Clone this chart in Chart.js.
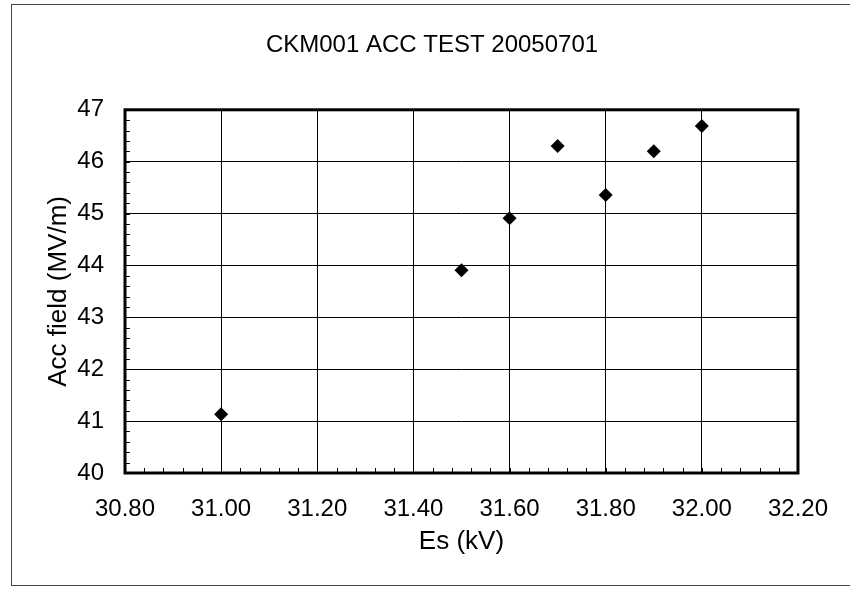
<!DOCTYPE html>
<html>
<head>
<meta charset="utf-8">
<script src="https://cdn.jsdelivr.net/npm/chart.js@4"></script>
<style>
  html, body { margin: 0; padding: 0; background: #fff; }
  #wrap { position: relative; width: 850px; height: 589px; overflow: hidden; }
  #frame { position: absolute; left: 11px; top: 4px; width: 900px; height: 582px;
           border: 1px solid #444; box-sizing: border-box; pointer-events: none; }
  canvas { position: absolute; left: 0; top: 0; }
</style>
</head>
<body>
<div id="wrap">
  <canvas id="chart" width="850" height="589"></canvas>
  <div id="frame"></div>
</div>
<script>
// --- données ---
const esKV = [31.00, 31.50, 31.60, 31.70, 31.80, 31.90, 32.00];
const accField = [41.13, 43.91, 44.91, 46.30, 45.36, 46.20, 46.69];

const xMin = 30.8, xMax = 32.2, xStep = 0.2, xMinorStep = 0.04;
const yMin = 40, yMax = 47, yStep = 1, yMinorStep = 0.2;

const chartTitle = 'CKM001 ACC TEST 20050701';
const xTitle = 'Es (kV)';
const yTitle = 'Acc field (MV/m)';

const FONT = '"Liberation Sans", Arial, sans-serif';

// cadre épais + petites graduations intérieures
const framePlugin = {
    id: 'frame',
    afterDatasetsDraw(chart) {
        const {ctx, chartArea: a, scales: {x, y}} = chart;
        ctx.save();
        ctx.strokeStyle = '#000';
        ctx.lineWidth = 1;
        ctx.beginPath();
        for (let v = yMin; v <= yMax + 1e-9; v += yMinorStep) {
            const py = Math.round(y.getPixelForValue(v)) + 0.5;
            ctx.moveTo(a.left, py);
            ctx.lineTo(a.left + 5, py);
        }
        for (let v = xMin; v <= xMax + 1e-9; v += xMinorStep) {
            const px = Math.round(x.getPixelForValue(v)) + 0.5;
            ctx.moveTo(px, a.bottom);
            ctx.lineTo(px, a.bottom - 5);
        }
        ctx.stroke();
        ctx.lineWidth = 3;
        ctx.strokeRect(a.left, a.top, a.right - a.left, a.bottom - a.top);
        ctx.restore();
    }
};

new Chart(document.getElementById('chart'), {
    type: 'scatter',
    data: {
        datasets: [{
            data: esKV.map((v, i) => ({x: v, y: accField[i]})),
            pointStyle: 'rectRot',
            pointRadius: 7,
            backgroundColor: '#000',
            borderColor: '#000',
            borderWidth: 0
        }]
    },
    options: {
        responsive: false,
        animation: false,
        layout: { padding: { left: 14, right: 0, top: 0, bottom: 0 } },
        plugins: {
            legend: { display: false },
            tooltip: { enabled: false },
            title: {
                display: true,
                text: chartTitle,
                color: '#000',
                font: { family: FONT, size: 24, weight: 'normal', lineHeight: 1.2 },
                padding: { top: 31, bottom: 50 }
            }
        },
        scales: {
            x: {
                type: 'linear',
                min: xMin, max: xMax,
                afterFit: s => { s.height = 116; },
                grid: { color: '#000', lineWidth: 1, drawTicks: false },
                border: { display: false },
                ticks: {
                    stepSize: xStep,
                    padding: 22,
                    color: '#000',
                    font: { family: FONT, size: 24, lineHeight: 1.2 },
                    callback: v => Number(v).toFixed(2)
                },
                title: {
                    display: true,
                    text: xTitle,
                    color: '#000',
                    font: { family: FONT, size: 26, lineHeight: 1.2 },
                    padding: { top: 0, bottom: 32 }
                }
            },
            y: {
                type: 'linear',
                min: yMin, max: yMax,
                afterFit: s => { s.width = 111; },
                grid: { color: '#000', lineWidth: 1, drawTicks: false },
                border: { display: false },
                ticks: {
                    stepSize: yStep,
                    padding: 21,
                    color: '#000',
                    font: { family: FONT, size: 24, lineHeight: 1.2 }
                },
                title: {
                    display: true,
                    text: yTitle,
                    color: '#000',
                    font: { family: FONT, size: 26, lineHeight: 1.2 },
                    padding: { top: 29, bottom: 0 }
                }
            },
            // axe vide à droite : réserve la marge droite
            yRight: {
                type: 'linear',
                position: 'right',
                min: yMin, max: yMax,
                afterFit: s => { s.width = 51; },
                grid: { display: false },
                border: { display: false },
                ticks: { display: false }
            }
        }
    },
    plugins: [framePlugin]
});
</script>
</body>
</html>
